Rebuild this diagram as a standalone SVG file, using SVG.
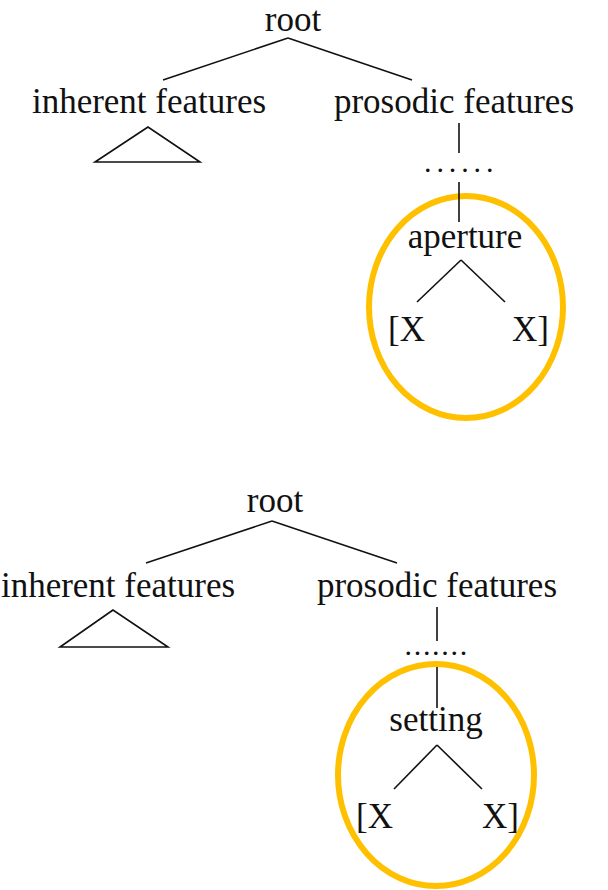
<svg xmlns="http://www.w3.org/2000/svg" width="608" height="890" viewBox="0 0 608 890">
<style>
text{font-family:"Liberation Serif","Times New Roman",serif;font-size:35px;fill:#111}
.c{text-anchor:middle}
.ln{stroke:#111;stroke-width:1.6;fill:none}
.ring{fill:none;stroke:#FFC000;stroke-width:6}
.dots{font-size:30px}
</style>
<rect width="608" height="890" fill="#fff"/>
<g id="tree1">
<g id="t1-root"><text class="c" x="293" y="31">root</text></g>
<g id="t1-inherent"><text class="c" x="149" y="113">inherent features</text></g>
<g id="t1-triangle"><polygon class="ln" points="148,127 95,162 200,162"/></g>
<g id="t1-prosodic"><text class="c" x="454" y="113">prosodic features</text></g>
<g id="t1-dots"><text class="dots" x="424" y="172" style="letter-spacing:4.9px">......</text></g>
<g id="t1-circle"><ellipse class="ring" cx="466" cy="307" rx="97" ry="111"/></g>
<g id="t1-aperture"><text class="c" x="465" y="248">aperture</text></g>
<g id="t1-x1"><text x="388" y="341">[X</text></g>
<g id="t1-x2"><text x="512" y="341">X]</text></g>
<g id="t1-connectors">
<line class="ln" x1="288" y1="38" x2="163" y2="80"/>
<line class="ln" x1="288" y1="38" x2="412" y2="80"/>
<line class="ln" x1="459" y1="123" x2="459" y2="153"/>
<line class="ln" x1="459" y1="182" x2="459" y2="222"/>
<line class="ln" x1="461" y1="260" x2="417" y2="302"/>
<line class="ln" x1="461" y1="260" x2="505" y2="302"/>
</g>
</g>
<g id="tree2">
<g id="t2-root"><text class="c" x="275" y="512">root</text></g>
<g id="t2-inherent"><text class="c" x="118" y="597">inherent features</text></g>
<g id="t2-triangle"><polygon class="ln" points="113,610 60,647 168,647"/></g>
<g id="t2-prosodic"><text class="c" x="437" y="597">prosodic features</text></g>
<g id="t2-dots"><text class="dots" x="404.5" y="655" style="letter-spacing:1.7px">.......</text></g>
<g id="t2-circle"><ellipse class="ring" cx="436" cy="775" rx="98" ry="111"/></g>
<g id="t2-setting"><text class="c" x="436" y="731">setting</text></g>
<g id="t2-x1"><text x="356" y="828">[X</text></g>
<g id="t2-x2"><text x="482" y="828">X]</text></g>
<g id="t2-connectors">
<line class="ln" x1="272" y1="521" x2="146" y2="563"/>
<line class="ln" x1="272" y1="521" x2="397" y2="563"/>
<line class="ln" x1="437" y1="607" x2="437" y2="641"/>
<line class="ln" x1="437" y1="667" x2="437" y2="708"/>
<line class="ln" x1="437" y1="745" x2="394" y2="789"/>
<line class="ln" x1="437" y1="745" x2="482" y2="789"/>
</g>
</g>
</svg>
